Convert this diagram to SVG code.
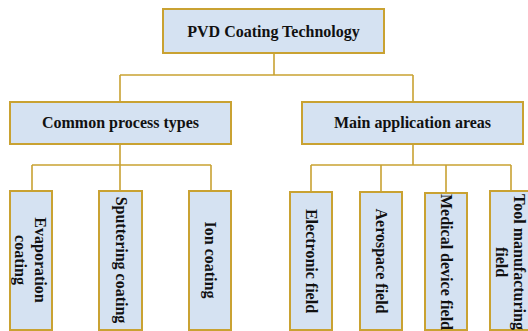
<svg xmlns="http://www.w3.org/2000/svg" width="528" height="331" viewBox="0 0 528 331">
<style>
.box{fill:#D5E2F2;stroke:#C9A232;stroke-width:2}
.ln{fill:none;stroke:#C9A232;stroke-width:1.6}
text{font-family:"Liberation Serif","Times New Roman",serif;font-weight:bold;font-size:16px;fill:#111;text-anchor:middle}
</style>
<rect width="528" height="331" fill="#fff"/>
<g id="connectors">
<path class="ln" d="M274 53V75M120 75H413M120 75V102M413 75V102"/>
<path class="ln" d="M120 144V165M32 165H211M32 165V191M120 165V191M211 165V191"/>
<path class="ln" d="M413 144V165M311 165H511M311 165V192M381 165V192M446 165V193M511 165V191"/>
</g>
<g id="root"><rect class="box" x="163" y="9" width="221" height="44"/><text x="273.5" y="37">PVD Coating Technology</text></g>
<g id="process"><rect class="box" x="10" y="102" width="221" height="42"/><text x="120.5" y="128">Common process types</text></g>
<g id="application"><rect class="box" x="302" y="102" width="221" height="42"/><text x="412.5" y="128">Main application areas</text></g>
<g id="evaporation"><rect class="box" x="10" y="191" width="42" height="139"/><text transform="translate(31,260) rotate(90)"><tspan x="0" y="-4">Evaporation</tspan><tspan x="0" y="16">coating</tspan></text></g>
<g id="sputtering"><rect class="box" x="99" y="191" width="43" height="139"/><text transform="translate(120.5,260) rotate(90)" y="5">Sputtering coating</text></g>
<g id="ion"><rect class="box" x="189" y="191" width="42" height="139"/><text transform="translate(210,260) rotate(90)" y="5">Ion coating</text></g>
<g id="electronic"><rect class="box" x="290" y="192" width="42" height="138"/><text transform="translate(311,261) rotate(90)" y="5">Electronic field</text></g>
<g id="aerospace"><rect class="box" x="360" y="192" width="42" height="138"/><text transform="translate(381,261) rotate(90)" y="5">Aerospace field</text></g>
<g id="medical"><rect class="box" x="425" y="193" width="42" height="137"/><text transform="translate(446,262) rotate(90)" y="5">Medical device field</text></g>
<g id="tool"><rect class="box" x="490" y="191" width="42" height="139"/><text transform="translate(511,262) rotate(90)"><tspan x="0" y="-3">Tool manufacturing</tspan><tspan x="0" y="15">field</tspan></text></g>
</svg>
